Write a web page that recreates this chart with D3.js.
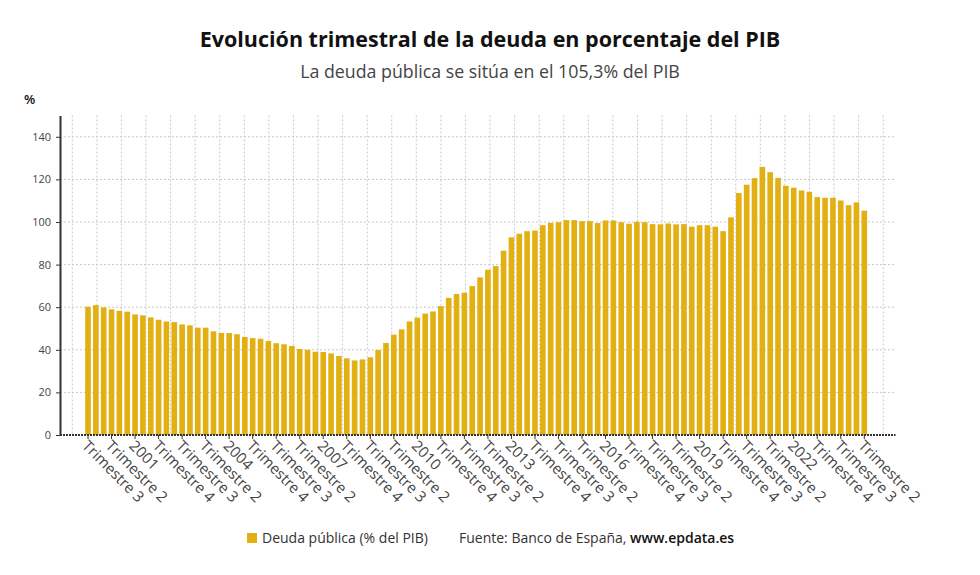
<!DOCTYPE html>
<html>
<head>
<meta charset="utf-8">
<script src="https://cdn.jsdelivr.net/npm/d3@7"></script>
<style>
  body { margin: 0; background: #fff; font-family: "Open Sans", sans-serif; }
</style>
</head>
<body>
<div id="chart"></div>
<script>
// Quarters from 1999 T3 to 2024 T2
const firstYear = 1999;
const firstQuarter = 3;
const quarters = [];
for (let k = 0; k < 100; k++) {
  const q = (firstQuarter - 1 + k) % 4 + 1;
  const y = firstYear + Math.floor((firstQuarter - 1 + k) / 4);
  quarters.push(`${y}-T${q}`);
}

// Deuda pública (% del PIB)
const deuda = [
  60.2, 61.0, 59.9, 59.0, 58.3, 57.9, 56.6, 56.2, 55.2, 54.1,
  53.3, 53.0, 51.9, 51.5, 50.4, 50.4, 48.7, 47.9, 47.9, 47.3,
  46.0, 45.5, 45.2, 44.1, 43.1, 42.6, 41.8, 40.4, 40.0, 39.1,
  39.0, 38.3, 37.1, 36.0, 35.0, 35.5, 36.5, 39.9, 43.2, 47.1,
  49.6, 53.3, 55.1, 57.0, 58.0, 60.5, 64.4, 66.2, 66.8, 69.9,
  74.0, 77.6, 79.3, 86.5, 92.8, 94.5, 95.7, 96.0, 98.5, 99.6,
  99.9, 100.9, 100.9, 100.4, 100.4, 99.5, 100.7, 100.7, 99.9, 99.2,
  100.1, 99.9, 99.0, 98.9, 99.3, 98.9, 99.0, 97.8, 98.5, 98.5,
  97.8, 95.7, 102.2, 113.6, 117.5, 120.6, 125.9, 123.4, 120.7, 117.0,
  116.1, 114.8, 114.2, 111.7, 111.4, 111.4, 110.1, 107.9, 109.2, 105.3
];

// one label every three quarters
const tickLabels = [
  "Trimestre 3", "Trimestre 2", "2001", "Trimestre 4", "Trimestre 3", "Trimestre 2",
  "2004", "Trimestre 4", "Trimestre 3", "Trimestre 2", "2007", "Trimestre 4",
  "Trimestre 3", "Trimestre 2", "2010", "Trimestre 4", "Trimestre 3", "Trimestre 2",
  "2013", "Trimestre 4", "Trimestre 3", "Trimestre 2", "2016", "Trimestre 4",
  "Trimestre 3", "Trimestre 2", "2019", "Trimestre 4", "Trimestre 3", "Trimestre 2",
  "2022", "Trimestre 4", "Trimestre 3", "Trimestre 2"
];
const yTicks = [0, 20, 40, 60, 80, 100, 120, 140];

const barColor = "#e3b013";
const width = 980, height = 575;
const plot = { left: 60, right: 895.5, top: 115.5, bottom: 435 };

const svg = d3.select("#chart")
  .append("svg")
  .attr("width", width)
  .attr("height", height);

const x = d3.scaleBand()
  .domain(quarters)
  .range([85.2, 867.1])
  .paddingInner(0.28)
  .paddingOuter(0);

const y = d3.scaleLinear()
  .domain([0, 150])
  .range([plot.bottom, plot.top]);

// vertical grid (34 evenly spread lines across the plot)
const gridX = d3.scaleBand()
  .domain(d3.range(tickLabels.length))
  .range([plot.left, plot.right]);

svg.append("g")
  .selectAll("line")
  .data(gridX.domain())
  .join("line")
  .attr("x1", d => gridX(d) + gridX.bandwidth() / 2)
  .attr("x2", d => gridX(d) + gridX.bandwidth() / 2)
  .attr("y1", plot.top)
  .attr("y2", plot.bottom)
  .attr("stroke", "#c8c8c8")
  .attr("stroke-width", 1)
  .attr("stroke-dasharray", "2,2");

// horizontal grid
svg.append("g")
  .selectAll("line")
  .data(yTicks.filter(d => d > 0))
  .join("line")
  .attr("x1", plot.left)
  .attr("x2", plot.right)
  .attr("y1", d => y(d))
  .attr("y2", d => y(d))
  .attr("stroke", "#c8c8c8")
  .attr("stroke-width", 1)
  .attr("stroke-dasharray", "2,2");

// bars
svg.append("g")
  .selectAll("rect")
  .data(deuda)
  .join("rect")
  .attr("x", (d, i) => x(quarters[i]))
  .attr("y", d => y(d))
  .attr("width", x.bandwidth())
  .attr("height", d => y(0) - y(d))
  .attr("fill", barColor);

// y axis
const yAxis = svg.append("g")
  .attr("transform", `translate(${plot.left},0)`)
  .call(d3.axisLeft(y).tickValues(yTicks).tickSize(4).tickSizeOuter(0).tickPadding(5));

yAxis.select(".domain").attr("stroke", "#333").attr("stroke-width", 2);
yAxis.selectAll(".tick line").attr("stroke", "#333");
yAxis.selectAll(".tick text")
  .attr("fill", "#444")
  .style("font-family", "Open Sans")
  .style("font-size", "11px");

// x axis
const tickKeys = quarters.filter((d, i) => i % 3 === 0);
const xAxis = svg.append("g")
  .attr("transform", `translate(0,${plot.bottom})`)
  .call(d3.axisBottom(x).tickValues(tickKeys).tickFormat((d, i) => tickLabels[i]).tickSize(4).tickSizeOuter(0));

xAxis.select(".domain").remove();
xAxis.append("line")
  .attr("x1", plot.left)
  .attr("x2", plot.right)
  .attr("stroke", "#333")
  .attr("stroke-width", 2)
  .attr("stroke-dasharray", "2,1");
xAxis.selectAll(".tick line").attr("stroke", "#333");
xAxis.selectAll(".tick text")
  .attr("x", 0)
  .attr("y", 0)
  .attr("dy", "0.35em")
  .attr("transform", "translate(-3,8) rotate(45)")
  .attr("text-anchor", "start")
  .attr("fill", "#444")
  .style("font-family", "Open Sans")
  .style("font-size", "15px");

// unit label
svg.append("text")
  .attr("x", 24)
  .attr("y", 104)
  .attr("font-size", "13px")
  .attr("font-weight", 600)
  .attr("fill", "#111")
  .text("%");

// titles
svg.append("text")
  .attr("x", width / 2)
  .attr("y", 47)
  .attr("text-anchor", "middle")
  .attr("font-size", "21.5px")
  .attr("font-weight", "bold")
  .attr("fill", "#111")
  .text("Evolución trimestral de la deuda en porcentaje del PIB");

svg.append("text")
  .attr("x", width / 2)
  .attr("y", 78)
  .attr("text-anchor", "middle")
  .attr("font-size", "17.8px")
  .attr("fill", "#444")
  .text("La deuda pública se sitúa en el 105,3% del PIB");

// legend + source
const legend = svg.append("g");
legend.append("rect")
  .attr("x", 247)
  .attr("y", 533)
  .attr("width", 10)
  .attr("height", 10)
  .attr("fill", barColor);

legend.append("text")
  .attr("x", 262)
  .attr("y", 543)
  .attr("font-size", "14px")
  .attr("fill", "#333")
  .text("Deuda pública (% del PIB)");

const source = legend.append("text")
  .attr("x", 459)
  .attr("y", 543)
  .attr("font-size", "14px")
  .attr("fill", "#333");
source.append("tspan").text("Fuente: Banco de España, ");
source.append("tspan").attr("font-weight", 600).attr("fill", "#111").text("www.epdata.es");
</script>
</body>
</html>
